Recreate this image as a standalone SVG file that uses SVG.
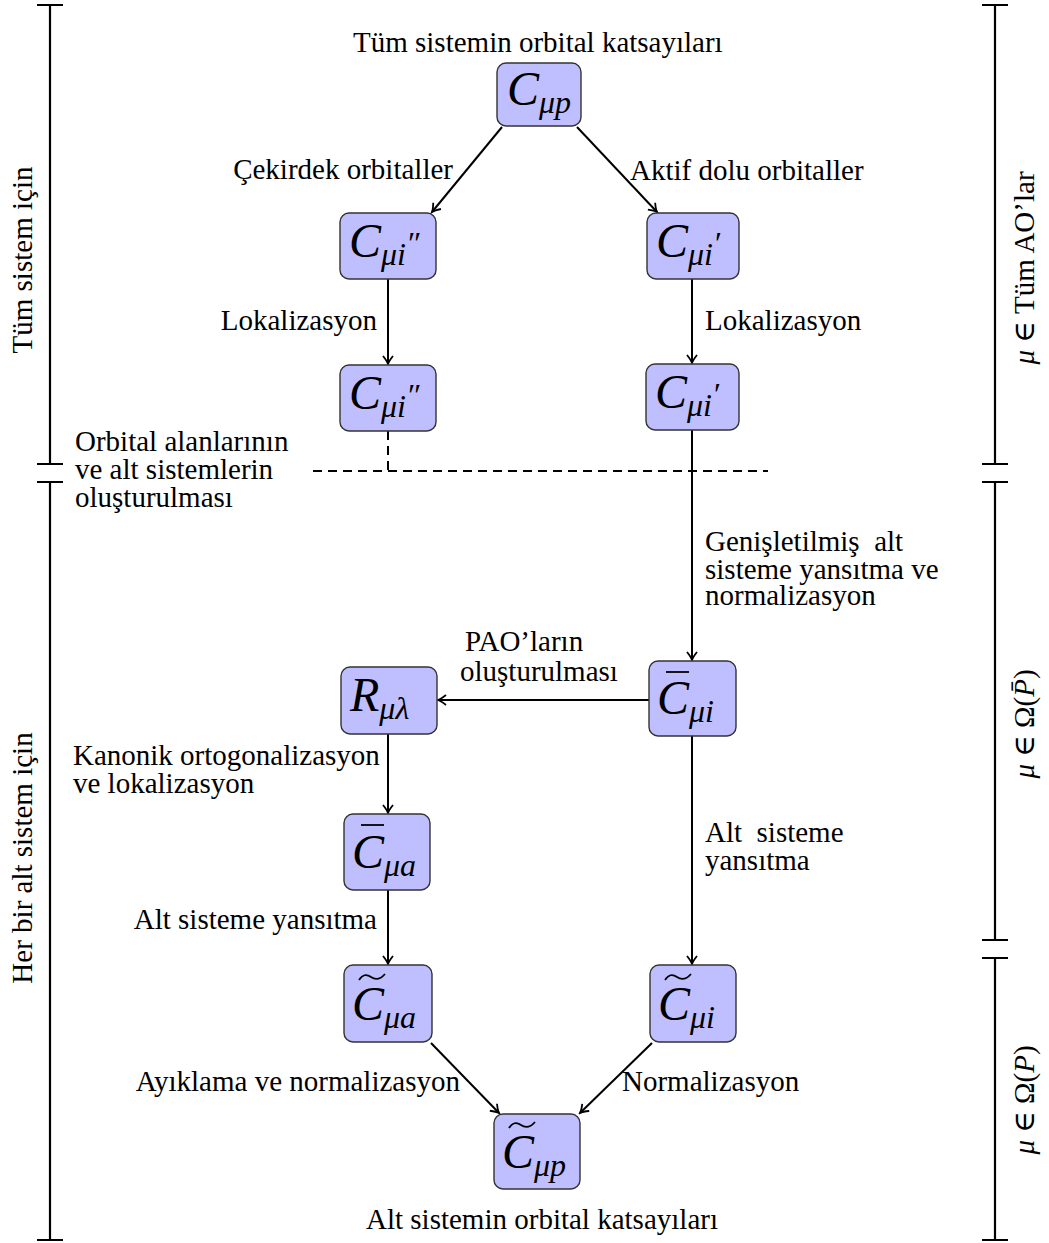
<svg xmlns="http://www.w3.org/2000/svg" width="1049" height="1243" viewBox="0 0 1049 1243">
<style>
.node rect{fill:#bfbfff;stroke:#333;stroke-width:1.4}
.t{font-family:"Liberation Serif","DejaVu Serif",serif;font-size:29px;fill:#000}
.m{font-family:"Liberation Serif","DejaVu Serif",serif;font-style:italic;fill:#000}
.big{font-size:48px}
.sub{font-size:32px}
.up{font-style:normal}
.c{fill:none;stroke:#000;stroke-width:2}
.d{fill:none;stroke:#000;stroke-width:2;stroke-dasharray:9 6}
.br{fill:none;stroke:#000;stroke-width:2.2}
.acc{fill:none;stroke:#000;stroke-width:1.8}
</style>
<defs>
<marker id="ah" viewBox="-10 -6 12 12" refX="0" refY="0" markerWidth="12" markerHeight="12" markerUnits="userSpaceOnUse" orient="auto">
<path d="M-8,-5 Q-3,-1 0,0 Q-3,1 -8,5" fill="none" stroke="#000" stroke-width="1.8"/>
</marker>
</defs>

<g id="brackets">
<path class="br" d="M50,5V464M37,5H63M37,464H63"/>
<path class="br" d="M50,482V1240M37,482H63M37,1240H63"/>
<path class="br" d="M995,5V464M982,5H1008M982,464H1008"/>
<path class="br" d="M995,482V940M982,482H1008M982,940H1008"/>
<path class="br" d="M995,958V1240M982,958H1008M982,1240H1008"/>
<text class="t" transform="translate(32,260) rotate(-90)" text-anchor="middle">Tüm sistem için</text>
<text class="t" transform="translate(32,858) rotate(-90)" text-anchor="middle">Her bir alt sistem için</text>
<text class="t" transform="translate(1034,268) rotate(-90)" text-anchor="middle"><tspan font-style="italic">μ</tspan> ∈ Tüm AO’lar</text>
<text class="t" transform="translate(1034,724) rotate(-90)" text-anchor="middle"><tspan font-style="italic">μ</tspan> ∈ Ω(<tspan font-style="italic">P̄</tspan>)</text>
<text class="t" transform="translate(1034,1100) rotate(-90)" text-anchor="middle"><tspan font-style="italic">μ</tspan> ∈ Ω(<tspan font-style="italic">P</tspan>)</text>
</g>

<g id="connectors">
<line class="c" x1="502" y1="127" x2="432" y2="212" marker-end="url(#ah)"/>
<line class="c" x1="577" y1="127" x2="657" y2="212" marker-end="url(#ah)"/>
<line class="c" x1="388" y1="279" x2="388" y2="364" marker-end="url(#ah)"/>
<line class="c" x1="692" y1="279" x2="692" y2="363" marker-end="url(#ah)"/>
<path class="d" d="M388,431V471"/>
<path class="d" d="M313,471H768"/>
<line class="c" x1="692" y1="430" x2="692" y2="660" marker-end="url(#ah)"/>
<line class="c" x1="649" y1="700" x2="438" y2="700" marker-end="url(#ah)"/>
<line class="c" x1="388" y1="734" x2="388" y2="813" marker-end="url(#ah)"/>
<line class="c" x1="388" y1="890" x2="388" y2="964" marker-end="url(#ah)"/>
<line class="c" x1="692" y1="736" x2="692" y2="964" marker-end="url(#ah)"/>
<line class="c" x1="431" y1="1043" x2="499" y2="1113" marker-end="url(#ah)"/>
<line class="c" x1="652" y1="1043" x2="580" y2="1113" marker-end="url(#ah)"/>
</g>

<g id="labels">
<text class="t" x="353" y="52">Tüm sistemin orbital katsayıları</text>
<text class="t" x="453" y="179" text-anchor="end">Çekirdek orbitaller</text>
<text class="t" x="630" y="180">Aktif dolu orbitaller</text>
<text class="t" x="377" y="330" text-anchor="end">Lokalizasyon</text>
<text class="t" x="705" y="330">Lokalizasyon</text>
<text class="t" x="75" y="451">Orbital alanlarının</text>
<text class="t" x="75" y="479">ve alt sistemlerin</text>
<text class="t" x="75" y="507">oluşturulması</text>
<text class="t" x="705" y="551" xml:space="preserve">Genişletilmiş  alt</text>
<text class="t" x="705" y="579">sisteme yansıtma ve</text>
<text class="t" x="705" y="605">normalizasyon</text>
<text class="t" x="465" y="651">PAO’ların</text>
<text class="t" x="460" y="681">oluşturulması</text>
<text class="t" x="73" y="765">Kanonik ortogonalizasyon</text>
<text class="t" x="73" y="793">ve lokalizasyon</text>
<text class="t" x="705" y="842" xml:space="preserve">Alt  sisteme</text>
<text class="t" x="705" y="870">yansıtma</text>
<text class="t" x="377" y="929" text-anchor="end">Alt sisteme yansıtma</text>
<text class="t" x="460" y="1091" text-anchor="end">Ayıklama ve normalizasyon</text>
<text class="t" x="622" y="1091">Normalizasyon</text>
<text class="t" x="366" y="1229">Alt sistemin orbital katsayıları</text>
</g>

<g id="n-cmp" class="node">
<rect x="497" y="63" width="84" height="63" rx="9"/>
<text class="m" x="507" y="105"><tspan class="big">C</tspan><tspan class="sub" dy="8">μp</tspan></text>
</g>
<g id="n-ci2-a" class="node">
<rect x="340" y="213" width="96" height="66" rx="9"/>
<text class="m" x="349" y="257"><tspan class="big">C</tspan><tspan class="sub" dy="8">μi</tspan><tspan class="sub" dy="-11">″</tspan></text>
</g>
<g id="n-ci1-a" class="node">
<rect x="647" y="213" width="92" height="66" rx="9"/>
<text class="m" x="656" y="257"><tspan class="big">C</tspan><tspan class="sub" dy="8">μi</tspan><tspan class="sub" dy="-11">′</tspan></text>
</g>
<g id="n-ci2-b" class="node">
<rect x="340" y="365" width="96" height="66" rx="9"/>
<text class="m" x="349" y="409"><tspan class="big">C</tspan><tspan class="sub" dy="8">μi</tspan><tspan class="sub" dy="-11">″</tspan></text>
</g>
<g id="n-ci1-b" class="node">
<rect x="646" y="364" width="93" height="66" rx="9"/>
<text class="m" x="655" y="408"><tspan class="big">C</tspan><tspan class="sub" dy="8">μi</tspan><tspan class="sub" dy="-11">′</tspan></text>
</g>
<g id="n-r" class="node">
<rect x="341" y="667" width="96" height="67" rx="9"/>
<text class="m" x="350" y="711"><tspan class="big">R</tspan><tspan class="sub" dy="8">μλ</tspan></text>
</g>
<g id="n-cbar-mi" class="node">
<rect x="649" y="661" width="87" height="75" rx="9"/>
<text class="m" x="657" y="714"><tspan class="big">C</tspan><tspan class="sub" dy="8">μi</tspan></text>
<path class="acc" d="M666,672H689"/>
</g>
<g id="n-cbar-ma" class="node">
<rect x="344" y="814" width="86" height="76" rx="9"/>
<text class="m" x="352" y="868"><tspan class="big">C</tspan><tspan class="sub" dy="8">μa</tspan></text>
<path class="acc" d="M361,825H384"/>
</g>
<g id="n-ctil-mi-a" class="node">
<rect x="344" y="965" width="88" height="77" rx="9"/>
<text class="m" x="352" y="1020"><tspan class="big">C</tspan><tspan class="sub" dy="8">μa</tspan></text>
<path class="acc" d="M359,980Q364,972 371,977T385,974"/>
</g>
<g id="n-ctil-mi" class="node">
<rect x="650" y="965" width="86" height="77" rx="9"/>
<text class="m" x="658" y="1020"><tspan class="big">C</tspan><tspan class="sub" dy="8">μi</tspan></text>
<path class="acc" d="M665,980Q670,972 677,977T691,974"/>
</g>
<g id="n-ctil-mp" class="node">
<rect x="494" y="1114" width="86" height="75" rx="9"/>
<text class="m" x="502" y="1168"><tspan class="big">C</tspan><tspan class="sub" dy="8">μp</tspan></text>
<path class="acc" d="M509,1128Q514,1120 521,1125T535,1122"/>
</g>
</svg>
